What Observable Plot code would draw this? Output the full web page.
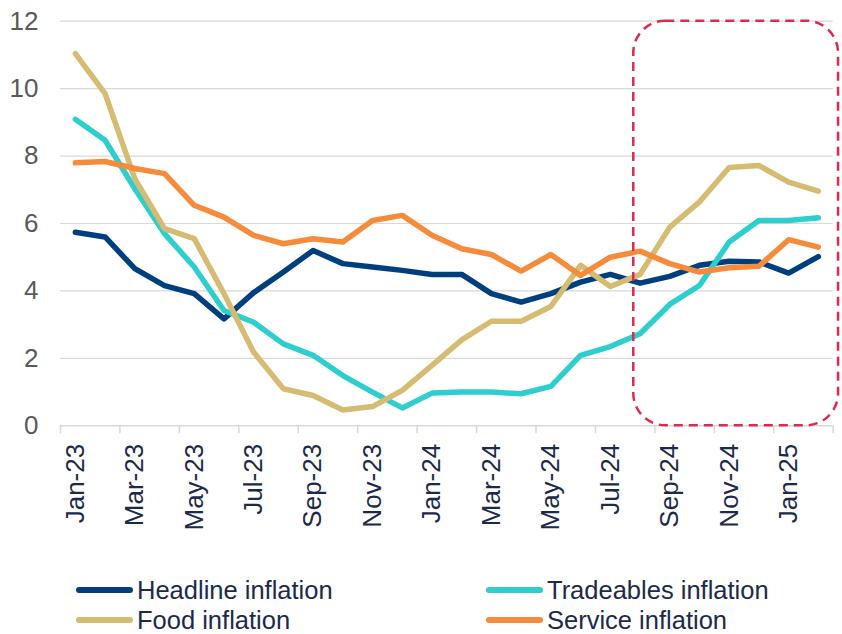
<!DOCTYPE html>
<html>
<head>
<meta charset="utf-8">
<script src="https://cdn.jsdelivr.net/npm/d3@7"></script>
<script src="https://cdn.jsdelivr.net/npm/@observablehq/plot@0.6"></script>
<style>
  html, body { margin: 0; padding: 0; background: #fff; }
  body { width: 842px; height: 634px; position: relative; overflow: hidden; font-family: "Liberation Sans", Arial, sans-serif; }
  #chart svg { display: block; }
  .legend { position: absolute; left: 0; top: 0; width: 842px; height: 634px; pointer-events: none; }
  .item { position: absolute; display: flex; align-items: center; height: 22px; }
  .sw { width: 57px; height: 6px; border-radius: 3px; margin-right: 4px; }
  .lab { font-size: 25.5px; color: #1c2a4a; white-space: nowrap; line-height: 22px; }
</style>
</head>
<body>
<div id="chart"></div>
<div class="legend" id="legend"></div>
<script>
const months = ["Jan-23","Feb-23","Mar-23","Apr-23","May-23","Jun-23","Jul-23","Aug-23","Sep-23","Oct-23","Nov-23","Dec-23",
                "Jan-24","Feb-24","Mar-24","Apr-24","May-24","Jun-24","Jul-24","Aug-24","Sep-24","Oct-24","Nov-24","Dec-24",
                "Jan-25","Feb-25"];
const headline    = [5.74,5.60,4.66,4.16,3.92,3.17,3.95,4.56,5.20,4.81,4.71,4.61,4.49,4.49,3.92,3.67,3.92,4.26,4.49,4.23,4.43,4.76,4.88,4.86,4.53,5.02];
const tradeables  = [9.09,8.47,7.03,5.70,4.71,3.42,3.07,2.43,2.09,1.49,1.00,0.53,0.97,1.00,1.00,0.95,1.17,2.09,2.35,2.73,3.60,4.16,5.45,6.09,6.09,6.17];
const food        = [11.04,9.85,7.33,5.85,5.55,3.92,2.18,1.10,0.90,0.47,0.57,1.05,1.79,2.55,3.10,3.10,3.54,4.76,4.13,4.49,5.89,6.64,7.66,7.72,7.23,6.96];
const service     = [7.80,7.84,7.63,7.48,6.54,6.19,5.65,5.40,5.55,5.45,6.09,6.24,5.65,5.25,5.08,4.59,5.08,4.46,5.00,5.18,4.81,4.56,4.69,4.73,5.52,5.30];

const seriesNames = ["Headline inflation","Tradeables inflation","Food inflation","Service inflation"];
const seriesColors = ["#003f7d","#2ecece","#d6bc72","#f68b3b"];
const yTicks = [0,2,4,6,8,10,12];
const labelMonths = months.filter((m, i) => i % 2 === 0);
const highlightMonths = ["Aug-24","Feb-25"];

const seriesValues = [headline, tradeables, food, service];
const rows = [];
seriesValues.forEach((vals, s) => vals.forEach((v, i) => rows.push({i, month: months[i], value: v, series: seriesNames[s]})));

const idx = m => months.indexOf(m);
const boundaries = d3.range(-0.5, months.length, 2);
const highlight = [{x1: idx(highlightMonths[0]) - 0.21, x2: idx(highlightMonths[1]) + 0.68, y1: yTicks[0], y2: yTicks[yTicks.length - 1]}];

const chart = Plot.plot({
  width: 842,
  height: 545,
  marginLeft: 60,
  marginRight: 9.3,
  marginTop: 20.7,
  marginBottom: 119.7,
  style: {fontFamily: "'Liberation Sans', Arial, sans-serif", background: "#fff"},
  x: {domain: [-0.5, months.length - 0.5], axis: null},
  y: {domain: [0, 12], axis: null},
  color: {domain: seriesNames, range: seriesColors},
  marks: [
    Plot.gridY(yTicks.filter(t => t > 0), {stroke: "#d9d9d9", strokeOpacity: 1, strokeWidth: 1.2}),
    Plot.ruleY([0], {stroke: "#d9d9d9", strokeWidth: 1.5}),
    Plot.axisY({ticks: yTicks, tickSize: 0, tickPadding: 22, fontSize: 26, fill: "#595959"}),
    Plot.axisX({ticks: boundaries, tickSize: 8, tickFormat: () => "", stroke: "#d9d9d9", strokeWidth: 1.5}),
    Plot.axisX({ticks: labelMonths.map(idx), tickSize: 0, tickPadding: 18, tickRotate: -90, fontSize: 26, fill: "#1c2a4a",
                tickFormat: i => months[Math.round(i)]}),
    ...seriesNames.map(name => Plot.line(rows.filter(r => r.series === name), {
      x: "i", y: "value", stroke: "series", strokeWidth: 5.5, strokeLinejoin: "round", strokeLinecap: "round"
    })),
    Plot.rect(highlight, {x1: "x1", x2: "x2", y1: "y1", y2: "y2", fill: "none", stroke: "#dc2b4e",
                          strokeWidth: 2.5, strokeDasharray: "9,6", rx: 32})
  ]
});
document.getElementById("chart").appendChild(chart);

const legendPos = [
  {left: 76, top: 579}, {left: 486, top: 579},
  {left: 76, top: 608.5}, {left: 486, top: 608.5}
];
const legend = document.getElementById("legend");
seriesNames.forEach((name, k) => {
  const it = document.createElement("div");
  it.className = "item";
  it.style.left = legendPos[k].left + "px";
  it.style.top = legendPos[k].top + "px";
  it.innerHTML = `<div class="sw" style="background:${seriesColors[k]}"></div><span class="lab">${name}</span>`;
  legend.appendChild(it);
});
</script>
</body>
</html>
